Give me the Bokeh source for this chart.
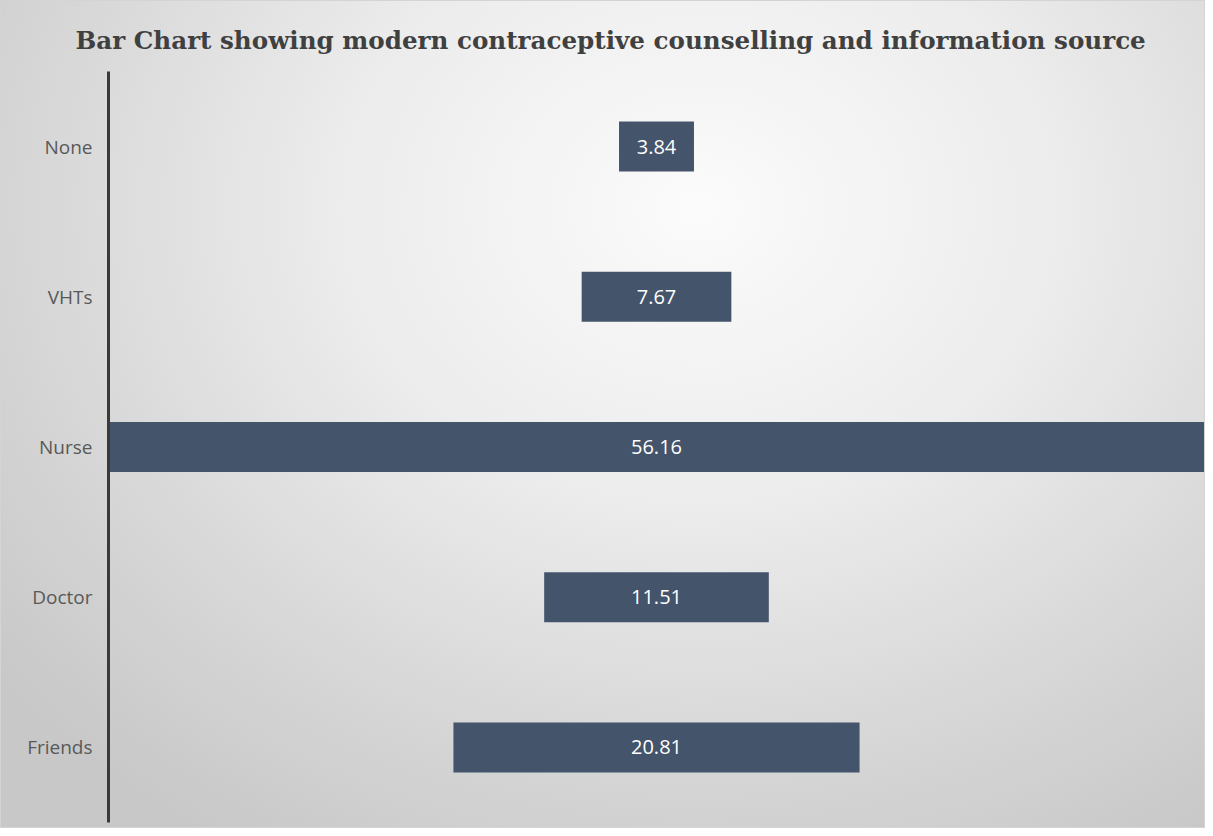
from bokeh.plotting import figure
from bokeh.models import ColumnDataSource, FactorRange, Range1d
from bokeh.core.properties import value
from bokeh.embed import file_html
from bokeh.resources import INLINE

# Data
categories = ["None", "VHTs", "Nurse", "Doctor", "Friends"]
percentages = [3.84, 7.67, 56.16, 11.51, 20.81]
labels = ["3.84", "7.67", "56.16", "11.51", "20.81"]

half_max = max(percentages) / 2.0

source = ColumnDataSource(dict(
    cat=categories,
    val=percentages,
    left=[-v / 2.0 for v in percentages],
    right=[v / 2.0 for v in percentages],
    mid=[0.0 for _ in percentages],
    lab=labels,
))

p = figure(
    width=1205, height=828,
    y_range=FactorRange(factors=list(reversed(categories))),
    x_range=Range1d(-half_max, half_max),
    output_backend="svg", toolbar_location=None,
    min_border_left=107, min_border_right=2, min_border_top=70, min_border_bottom=7,
)

p.title.text = "Bar Chart showing modern contraceptive counselling and information source"
p.title.align = "left"
p.title.offset = -33
p.title.text_font = "DejaVu Serif"
p.title.text_font_style = "bold"
p.title.text_font_size = "24.6px"
p.title.text_color = "#404040"
p.title.standoff = 34

p.styles = {
    "background": "radial-gradient(ellipse 75% 90% at 58% 25%, #fbfbfb 0%, #ececec 40%, #d6d6d6 75%, #c8c8c8 100%)",
    "border": "1px solid #d4d4d4",
}
p.border_fill_alpha = 0
p.background_fill_alpha = 0
p.outline_line_color = None

p.hbar(y="cat", left="left", right="right", height=0.333, source=source,
       fill_color="#44546a", line_color=None)

p.text(x="mid", y="cat", text="lab", source=source,
       text_align="center", text_baseline="middle",
       text_color="white", text_font=value("Open Sans"), text_font_size="20px")

p.xaxis.visible = False
p.xgrid.visible = False
p.ygrid.visible = False

p.yaxis.axis_line_color = "#3a3a3a"
p.yaxis.axis_line_width = 3
p.yaxis.major_tick_line_color = None
p.yaxis.minor_tick_line_color = None
p.yaxis.major_label_text_font = "Open Sans"
p.yaxis.major_label_text_font_size = "19px"
p.yaxis.major_label_text_color = "#595959"
p.yaxis.major_label_standoff = 10

open("out.html", "w").write(file_html(p, INLINE))
